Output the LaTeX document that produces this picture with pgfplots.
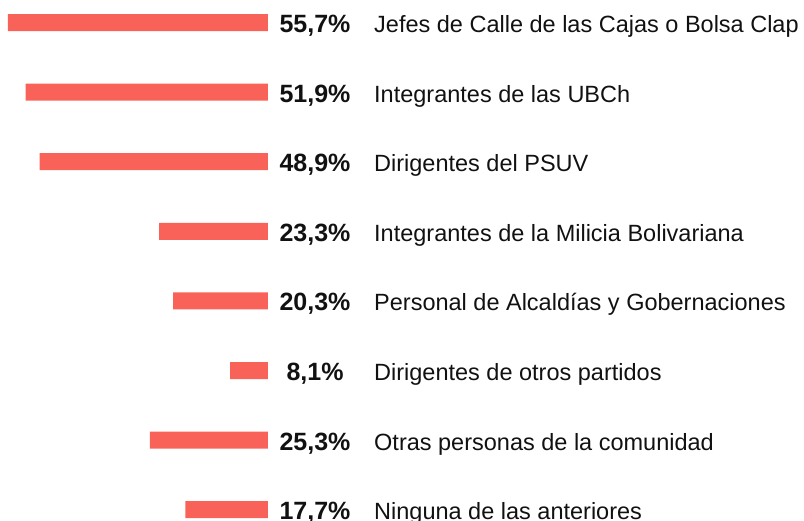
\documentclass[border=0pt]{standalone}
\usepackage{pgfplots}
\pgfplotsset{compat=1.18}
\usepackage{fontspec}
\setmainfont{Liberation Sans}
\definecolor{barc}{RGB}{249,98,88}
\definecolor{txt}{RGB}{17,17,17}
\begin{document}
\begin{tikzpicture}
\path[use as bounding box] (0,0) rectangle (804pt,520pt);
\begin{axis}[
  at={(0,0)}, anchor=south west,
  scale only axis, width=268pt, height=520pt,
  x dir=reverse, y dir=reverse,
  xmin=0, xmax=57.39,
  ymin=-0.3233, ymax=7.148,
  axis lines=none, ticks=none,
  clip=false,
]
\addplot[xbar, bar width=17pt, fill=barc, draw=none] coordinates {
  (55.7,0) (51.9,1) (48.9,2) (23.3,3) (20.3,4) (8.1,5) (25.3,6) (17.7,7)
};
\foreach \k/\p/\t in {0/55{,}7\%/Jefes de Calle de las Cajas o Bolsa Clap,
  1/51{,}9\%/Integrantes de las UBCh,
  2/48{,}9\%/Dirigentes del PSUV,
  3/23{,}3\%/Integrantes de la Milicia Bolivariana,
  4/20{,}3\%/Personal de Alcaldías y Gobernaciones,
  5/8{,}1\%/Dirigentes de otros partidos,
  6/25{,}3\%/Otras personas de la comunidad,
  7/17{,}7\%/Ninguna de las anteriores}{
  \edef\temp{\noexpand\node[anchor=base, inner sep=0pt, xshift=47pt, yshift=-10pt, text=txt, font=\noexpand\fontsize{25}{30}\noexpand\selectfont\noexpand\bfseries] at (axis cs:0,\k) {\p};}
  \temp
  \edef\temp{\noexpand\node[anchor=base west, inner sep=0pt, xshift=106pt, yshift=-10pt, text=txt, font=\noexpand\fontsize{23.5}{28}\noexpand\selectfont] at (axis cs:0,\k) {\t};}
  \temp
}
\end{axis}
\end{tikzpicture}
\end{document}
